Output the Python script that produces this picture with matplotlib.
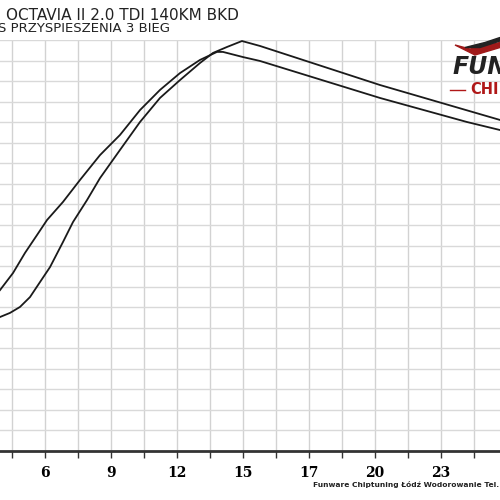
import matplotlib
matplotlib.use("Agg")
import matplotlib.pyplot as plt
from matplotlib.patches import Polygon

# data in grid units
ax_x = [-0.364, 0.03, 0.394, 0.758, 1.061, 1.545, 2.061, 2.667, 3.273, 3.879, 4.485, 5.091,
        5.697, 6.212, 6.394, 7.0, 7.515, 11.152, 13.788, 14.788]
ax_y = [7.83, 8.66, 9.64, 10.51, 11.24, 12.12, 13.19, 14.40, 15.38, 16.59, 17.57, 18.39,
        19.03, 19.42, 19.42, 19.17, 18.98, 17.18, 16.01, 15.62]
bx_x = [-0.364, -0.061, 0.242, 0.545, 0.848, 1.152, 1.545, 1.848, 2.273, 2.667, 3.273, 3.879,
        4.485, 5.091, 5.697, 6.091, 6.515, 6.970, 7.515, 11.152, 14.788]
bx_y = [6.52, 6.72, 7.01, 7.49, 8.22, 8.95, 10.17, 11.14, 12.21, 13.28, 14.65, 16.01,
        17.18, 18.05, 18.88, 19.37, 19.66, 19.95, 19.71, 17.81, 16.11]
tick_pos = [1, 3, 5, 7, 9, 11, 13]
tick_labels = ["6", "9", "12", "15", "17", "20", "23"]

fig = plt.figure(figsize=(5, 5), dpi=100)
ax = fig.add_axes([0, 0.098, 1, 0.822])
ax.set_xlim(-0.364, 14.79)
ax.set_ylim(0, 20)
for i in range(0, 15):
    ax.axvline(i, color="#d2d2d2", lw=1, zorder=1)
for j in range(1, 21):
    ax.axhline(j, color="#d9d9d9", lw=1, zorder=1)
for s in ["top", "right", "left"]:
    ax.spines[s].set_visible(False)
ax.spines["bottom"].set_linewidth(2)
ax.spines["bottom"].set_color("#333333")
ax.set_xticks(range(0, 15))
ax.set_xticklabels([""] * 15)
ax.tick_params(axis="x", length=5, width=1, color="#333333", direction="out")
ax.set_yticks([])
for p, l in zip(tick_pos, tick_labels):
    ax.text(p, -0.75, l, ha="center", va="top", fontsize=10, fontweight="bold",
            family="DejaVu Serif")

ax.plot(ax_x, ax_y, color="#1a1a1a", lw=1.3, clip_on=False, zorder=3)
ax.plot(bx_x, bx_y, color="#1a1a1a", lw=1.3, clip_on=False, zorder=3)

fig.text(0.012, 0.97, "OCTAVIA II 2.0 TDI 140KM BKD", fontsize=11, va="center",
         ha="left", color="#222222")
fig.text(-0.004, 0.942, "S PRZYSPIESZENIA 3 BIEG", fontsize=9.5, va="center",
         ha="left", color="#222222")

# logo
fig.patches.append(Polygon([[0.91, 0.91], [0.95, 0.89], [1.0, 0.905], [1.0, 0.915], [0.94, 0.902]],
                           closed=True, transform=fig.transFigure, color="#a01a1a"))
fig.patches.append(Polygon([[0.93, 0.905], [0.97, 0.915], [1.0, 0.925], [1.0, 0.918], [0.96, 0.905]],
                           closed=True, transform=fig.transFigure, color="#222222"))
fig.text(0.905, 0.865, "FUN", fontsize=17, fontweight="bold", style="italic",
         color="#222222", va="center", ha="left")
fig.text(0.94, 0.82, "CHI", fontsize=10.5, fontweight="bold", color="#b01818",
         va="center", ha="left")
fig.lines.append(plt.Line2D([0.9, 0.93], [0.82, 0.82], transform=fig.transFigure,
                            color="#b01818", lw=1))

fig.text(0.998, 0.03, "Funware Chiptuning Łódź Wodorowanie Tel.", fontsize=5.4,
         fontweight="bold", ha="right", va="center", color="#222222")

fig.savefig("out.png", dpi=100)
